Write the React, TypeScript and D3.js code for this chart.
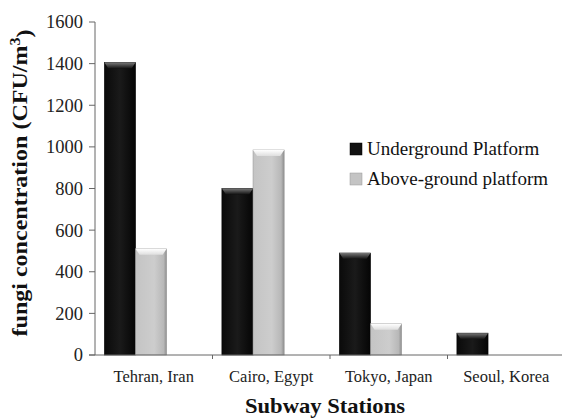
import React from "react";
import * as d3 from "d3";

const categories = ["Tehran, Iran", "Cairo, Egypt", "Tokyo, Japan", "Seoul, Korea"];
const seriesNames = ["Underground Platform", "Above-ground platform"];
const underground = [1405, 800, 490, 105];
const aboveground = [510, 985, 150, 0];
const yTicks = [0, 200, 400, 600, 800, 1000, 1200, 1400, 1600];

const W = 562, H = 418;
const left = 95, right = 565, top = 22, bottom = 355;

export default function App() {
  const y = d3.scaleLinear().domain([0, 1600]).range([bottom, top]);
  const x0 = d3.scaleBand<string>().domain(categories).range([left, right]).paddingInner(0).paddingOuter(0);
  const bw = x0.bandwidth();
  const x1 = d3.scaleBand<string>().domain(seriesNames).range([bw * 0.08, bw * 0.61]).padding(0);
  const sw = x1.bandwidth();
  const values = [underground, aboveground];
  const font = "'Liberation Serif', 'Times New Roman', 'DejaVu Serif', serif";
  return (
    <svg width={W} height={H} style={{ position: "absolute", left: 0, top: 0, background: "#fff", fontFamily: font }}>
      <defs>
        <linearGradient id="gDark" x1="0" y1="0" x2="1" y2="0">
          <stop offset="0" stopColor="#0a0a0a" />
          <stop offset="0.5" stopColor="#1a1a1a" />
          <stop offset="1" stopColor="#050505" />
        </linearGradient>
        <linearGradient id="gLight" x1="0" y1="0" x2="1" y2="0">
          <stop offset="0" stopColor="#c4c4c4" />
          <stop offset="0.6" stopColor="#cdcdcd" />
          <stop offset="0.9" stopColor="#b8b8b8" />
          <stop offset="1" stopColor="#8e8e8e" />
        </linearGradient>
        <linearGradient id="topDark" x1="0" y1="0" x2="0" y2="1">
          <stop offset="0" stopColor="#777" />
          <stop offset="1" stopColor="#111" />
        </linearGradient>
        <linearGradient id="topLight" x1="0" y1="0" x2="0" y2="1">
          <stop offset="0" stopColor="#ffffff" />
          <stop offset="1" stopColor="#dedede" />
        </linearGradient>
      </defs>
      {categories.map((c, i) =>
        seriesNames.map((s, j) => {
          const v = values[j][i];
          if (!v) return null;
          const bx = (x0(c) as number) + (x1(s) as number);
          const by = y(v);
          const h = bottom - by;
          const dark = j === 0;
          const bev = Math.min(6, h / 2);
          return (
            <g key={c + s}>
              <rect x={bx} y={by} width={sw} height={h} fill={dark ? "url(#gDark)" : "url(#gLight)"} stroke={dark ? "#000" : "#9a9a9a"} strokeWidth={0.6} />
              <path
                d={`M${bx},${by} L${bx + sw},${by} L${bx + sw - 4},${by + bev} L${bx + 4},${by + bev} Z`}
                fill={dark ? "url(#topDark)" : "url(#topLight)"}
              />
            </g>
          );
        })
      )}
      {/* y axis */}
      <line x1={left} x2={left} y1={top} y2={bottom} stroke="#666" strokeWidth={1} />
      {yTicks.map((t) => (
        <g key={t}>
          <line x1={left - 6} x2={left} y1={y(t)} y2={y(t)} stroke="#666" />
          <text x={left - 12} y={y(t)} dy="0.35em" textAnchor="end" fontSize={18.5} fill="#222">{t}</text>
        </g>
      ))}
      {/* x axis */}
      <line x1={left - 6} x2={W} y1={bottom} y2={bottom} stroke="#666" strokeWidth={1} />
      {categories.map((c, i) => (
        <g key={c}>
          {i > 0 && <line x1={x0(c)} x2={x0(c)} y1={bottom} y2={bottom + 4} stroke="#666" />}
          <text x={(x0(c) as number) + bw / 2} y={382} textAnchor="middle" fontSize={16.5} fill="#222">{c}</text>
        </g>
      ))}
      <text x={325} y={413} textAnchor="middle" fontSize={21} fontWeight="bold" fill="#111" textLength={160} lengthAdjust="spacingAndGlyphs">Subway Stations</text>
      <text transform={`translate(27, 183) rotate(-90)`} textAnchor="middle" fontSize={21} fontWeight="bold" fill="#111" textLength={307} lengthAdjust="spacingAndGlyphs">
        fungi concentration (CFU/m<tspan dy="-0.5em" fontSize={14}>3</tspan><tspan dy="0.5em">)</tspan>
      </text>
      {/* legend */}
      {seriesNames.map((s, j) => (
        <g key={s} transform={`translate(350, ${155 + j * 30})`}>
          <rect x={0} y={-12} width={12} height={12} fill={j === 0 ? "#111" : "#c4c4c4"} stroke={j === 0 ? "#000" : "#999"} strokeWidth={0.5} />
          <text x={17} y={0} fontSize={19} fill="#111">{s}</text>
        </g>
      ))}
    </svg>
  );
}
